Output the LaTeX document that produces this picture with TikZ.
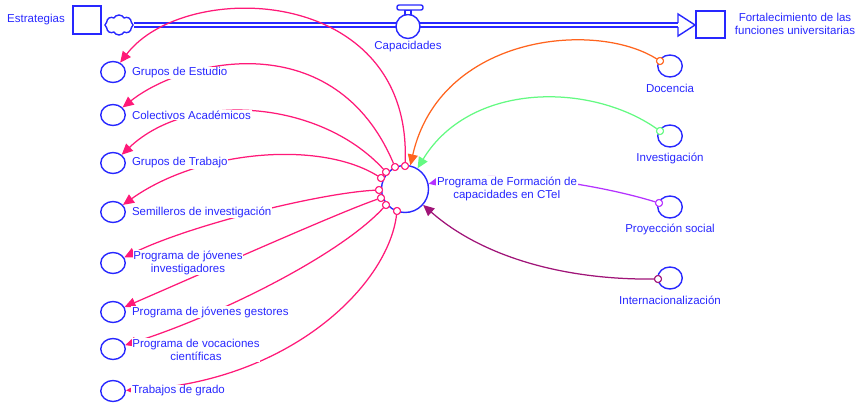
\documentclass[tikz,border=0pt]{standalone}
\usepackage{fontspec}
\setmainfont{Liberation Sans}
\usetikzlibrary{shapes.geometric,shapes.symbols,arrows.meta}
\definecolor{sdblue}{RGB}{40,40,255}
\definecolor{pinkc}{RGB}{255,25,120}
\definecolor{orangec}{RGB}{255,100,30}
\definecolor{greenc}{RGB}{100,250,130}
\definecolor{purplec}{RGB}{180,50,255}
\definecolor{magc}{RGB}{160,20,120}
\begin{document}
\begin{tikzpicture}[x=1pt,y=-1pt,
  lbl/.style={text=sdblue, font=\fontsize{11.5}{13}\selectfont, fill=white, inner sep=0.8pt, align=center},
  aux/.style={draw=sdblue, line width=1.4pt, ellipse, minimum width=24.5pt, minimum height=21pt, inner sep=0pt},
  tail/.style={circle, fill=white, line width=1pt, minimum size=7pt, inner sep=0pt},
  conn/.style={line width=1.25pt, -{Triangle[length=11pt,width=10pt]}},
  boxst/.style={draw=sdblue, line width=1.4pt, inner sep=0pt},
]
\useasboundingbox (0,0) rectangle (859,404);

% stock-flow top row
\node[boxst, minimum width=28pt, minimum height=28pt] (est) at (87,20) {};
\node[cloud, draw=sdblue, line width=1.4pt, cloud puffs=8, cloud puff arc=120, aspect=1.4, minimum width=28pt, minimum height=20pt, inner sep=0pt] (cl) at (119,25) {};
\node[boxst, minimum width=29pt, minimum height=27pt] (fort) at (710.5,24.5) {};
\draw[draw=sdblue, line width=1.5pt, double=white, double distance=2.8pt] (cl.east) -- (679,25);
\fill[white] (678,14) -- (695,25) -- (678,36) -- cycle;
\draw[sdblue, line width=1.4pt, line join=miter] (678,22.9) -- (678,14) -- (695,25) -- (678,36) -- (678,27.1);
\node[circle, draw=sdblue, fill=white, line width=1.4pt, minimum size=24pt, inner sep=0pt] (valve) at (408,26.5) {};
\draw[sdblue, line width=1.4pt, fill=white] (405,10) rectangle (411,14.5);
\draw[sdblue, line width=1.4pt, fill=white, rounded corners=2pt] (397,5) rectangle (423,10);

% main auxiliary
\node[circle, draw=sdblue, line width=1.4pt, minimum size=47pt, inner sep=0pt] (pf) at (405,189) {};

% left auxiliaries
\node[aux] (ge)  at (113,72) {};
\node[aux] (ca)  at (113,115) {};
\node[aux] (gt)  at (113,163) {};
\node[aux] (si)  at (113,212) {};
\node[aux] (pji) at (113,263) {};
\node[aux] (pjg) at (113,312) {};
\node[aux] (pvc) at (113,349) {};
\node[aux] (tg)  at (113,391) {};

% right auxiliaries
\node[aux, minimum height=22pt] (do)   at (670,66) {};
\node[aux, minimum height=22pt] (inv)  at (670,136) {};
\node[aux, minimum height=22pt] (ps)   at (670,207) {};
\node[aux, minimum height=22pt] (intl) at (670,278) {};

% tail anchors on main circle
\node[tail, draw=pinkc] (t1) at (405,166) {};
\node[tail, draw=pinkc] (t2) at (395,167) {};
\node[tail, draw=pinkc] (t3) at (386,172) {};
\node[tail, draw=pinkc] (t4) at (381,178) {};
\node[tail, draw=pinkc] (t5) at (379,190) {};
\node[tail, draw=pinkc] (t6) at (381,198) {};
\node[tail, draw=pinkc] (t7) at (386,205) {};
\node[tail, draw=pinkc] (t8) at (397,211) {};
% tails on right circles
\node[tail, draw=orangec] (td) at (660,61) {};
\node[tail, draw=greenc] (ti) at (660,131) {};
\node[tail, draw=purplec] (tp) at (659,203) {};
\node[tail, draw=magc] (tn) at (658,279) {};

% connectors
\draw[conn, pinkc] (t1) .. controls (412,-15) and (185,-22) .. (ge);
\draw[conn, pinkc] (t2) .. controls (335,25) and (185,58) .. (ca);
\draw[conn, pinkc] (t3) .. controls (320,100) and (190,90) .. (gt);
\draw[conn, pinkc] (t4) .. controls (320,140) and (200,150) .. (si);
\draw[conn, pinkc] (t5) .. controls (320,193) and (190,225) .. (pji);
\draw[conn, pinkc] (t6) .. controls (340,212) and (210,270) .. (pjg);
\draw[conn, pinkc] (t7) .. controls (340,255) and (220,315) .. (pvc);
\draw[conn, pinkc] (t8) .. controls (388,285) and (290,382) .. (tg);
\draw[conn, orangec] (td) .. controls (595,20) and (440,35) .. (pf);
\draw[conn, greenc] (ti) .. controls (590,82) and (470,82) .. (pf);
\draw[conn, purplec] (tp) .. controls (600,185) and (500,168) .. (pf);
\draw[conn, magc] (tn) .. controls (560,280) and (480,255) .. (pf);

% redraw tails on top
\foreach \t/\c in {t1/pinkc,t2/pinkc,t3/pinkc,t4/pinkc,t5/pinkc,t6/pinkc,t7/pinkc,t8/pinkc,td/orangec,ti/greenc,tp/purplec,tn/magc}
  \draw[\c, line width=1pt, fill=white] (\t) circle (3.5pt);

% labels
\node[lbl] (lest) at (36,20) {Estrategias};
\node[lbl] (lcap) at (408,47) {Capacidades};
\node[lbl] (lfort) at (795,24) {Fortalecimiento de las\\funciones universitarias};
\node[lbl] (lpf) at (507,189) {Programa de Formación de\\capacidades en CTeI};
\node[lbl] (ldo) at (670,88) {Docencia};
\node[lbl] (linv) at (670,158) {Investigación};
\node[lbl] (lps) at (670,229) {Proyección social};
\node[lbl] (lintl) at (670,300) {Internacionalización};
\node[lbl, anchor=west] (lge) at (131,73) {Grupos de Estudio};
\node[lbl, anchor=west] (lca) at (131,115) {Colectivos Académicos};
\node[lbl, anchor=west] (lgt) at (131,163) {Grupos de Trabajo};
\node[lbl, anchor=west] (lsi) at (131,212) {Semilleros de investigación};
\node[lbl] (lpji) at (188,262.5) {Programa de jóvenes\\investigadores};
\node[lbl, anchor=west] (lpjg) at (131,312) {Programa de jóvenes gestores};
\node[lbl] (lpvc) at (196,350) {Programa de vocaciones\\científicas};
\node[lbl, anchor=west] (ltg) at (131,391) {Trabajos de grado};
\end{tikzpicture}
\end{document}
